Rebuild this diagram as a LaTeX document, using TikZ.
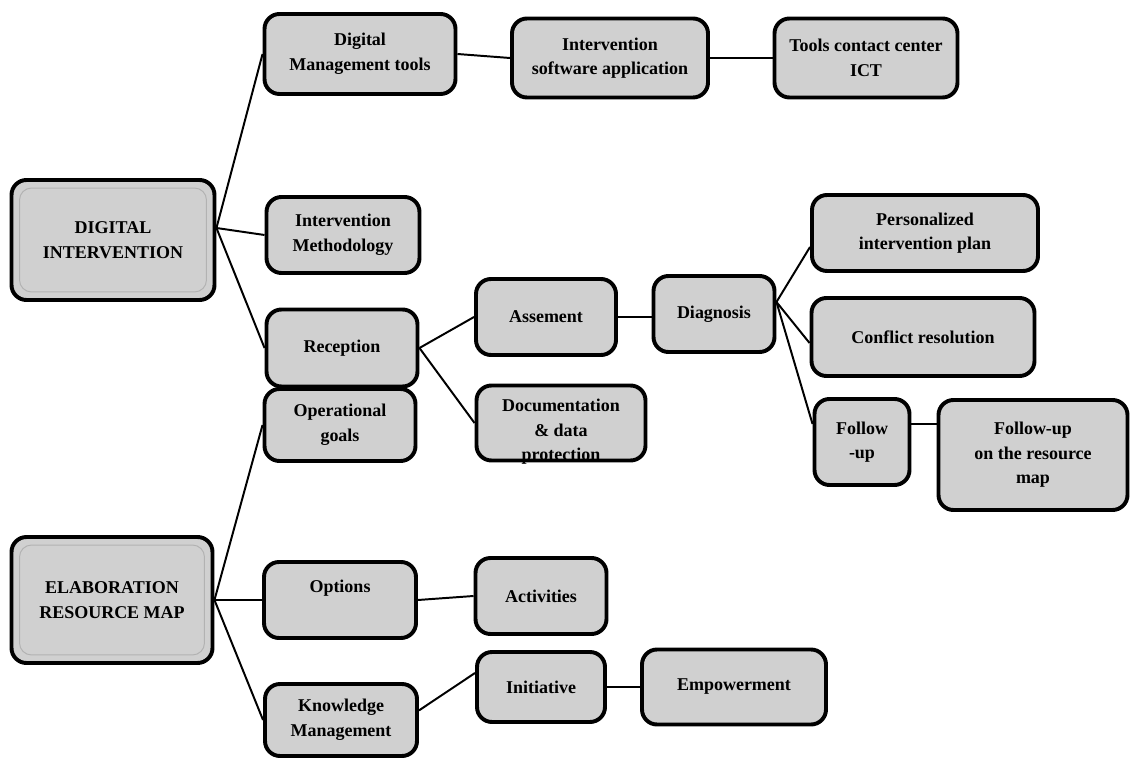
\documentclass[tikz,border=0pt]{standalone}
\usepackage{fontspec}
\setmainfont{Liberation Serif}
\usetikzlibrary{positioning}
\definecolor{boxgray}{RGB}{208,208,208}
\newcommand{\boxfont}{\fontsize{12.8}{17.5}\selectfont\bfseries}

\begin{document}
\begin{tikzpicture}[
    box/.style={draw, line width=2.8pt, rounded corners=0.375cm, fill=boxgray,
      align=center, inner sep=2pt, font=\boxfont},
    txt/.style={align=center, inner sep=0pt, font=\boxfont},
    inner line/.style={draw=gray!60, line width=0.7pt, rounded corners=0.3cm},
    link/.style={line width=1.4pt}
  ]
      \useasboundingbox (0, 0) rectangle (28.275, -19);

      % roots
      \node[box, minimum width=5.075cm, minimum height=3cm] (di) at (2.825, -6) {DIGITAL\\INTERVENTION};
      \draw[inner line] ([shift={(0.25, -0.25)}]di.north west) rectangle ([shift={(-0.25, 0.25)}]di.south east);
      \node[box, minimum width=5.025cm, minimum height=3.15cm] (erm) at (2.8, -15) {ELABORATION\\RESOURCE MAP};
      \draw[inner line] ([shift={(0.25, -0.25)}]erm.north west) rectangle ([shift={(-0.25, 0.25)}]erm.south east);

      % digital intervention branch
      \node[box, minimum width=4.775cm, minimum height=2cm] (dmt) at (9, -1.35) {Digital\\Management tools};
      \node[box, minimum width=4.9cm, minimum height=1.975cm] (isa) at (15.25, -1.45) {Intervention\\software application};
      \node[box, minimum width=4.575cm, minimum height=1.975cm] (tcc) at (21.65, -1.45) {Tools contact center\\ICT};
      \node[box, minimum width=3.825cm, minimum height=1.9cm] (im) at (8.575, -5.875) {Intervention\\Methodology};
      \node[box, minimum width=3.775cm, minimum height=1.925cm] (rec) at (8.55, -8.7) {Reception};
      \node[box, minimum width=3.5cm, minimum height=1.9cm] (ass) at (13.65, -7.925) {Assement};
      \node[box, minimum width=4.225cm, minimum height=1.875cm] (doc) at (14.025, -10.575) {};
      \node[txt] (doc-t) at ([yshift=-0.225cm]doc.center) {Documentation\\\& data\\protection};
      \node[box, minimum width=3.025cm, minimum height=1.9cm] (dia) at (17.85, -7.85) {Diagnosis};
      \node[box, minimum width=5.65cm, minimum height=1.9cm] (pip) at (23.125, -5.825) {Personalized\\intervention plan};
      \node[box, minimum width=5.575cm, minimum height=1.95cm] (cr) at (23.075, -8.425) {Conflict resolution};
      \node[box, minimum width=2.375cm, minimum height=2.15cm] (fu) at (21.55, -11.05) {Follow\\-up};
      \node[box, minimum width=4.725cm, minimum height=2.75cm] (fur) at (25.825, -11.375) {Follow-up\\on the resource\\map};

      % resource map branch
      \node[box, minimum width=3.775cm, minimum height=1.8cm] (og) at (8.5, -10.625) {Operational\\goals};
      \node[box, minimum width=3.8cm, minimum height=1.9cm] (opt) at (8.5, -15) {};
      \node[txt] (opt-t) at ([yshift=0.3cm]opt.center) {Options};
      \node[box, minimum width=3.275cm, minimum height=1.9cm] (act) at (13.525, -14.9) {Activities};
      \node[box, minimum width=3.8cm, minimum height=1.8cm] (km) at (8.525, -18) {Knowledge\\Management};
      \node[box, minimum width=3.2cm, minimum height=1.75cm] (ini) at (13.525, -17.175) {Initiative};
      \node[box, minimum width=4.6cm, minimum height=1.875cm] (emp) at (18.35, -17.175) {Empowerment};

      % connectors
      \draw[link] ([yshift=0.3cm]di.east) -- (dmt.west);
      \draw[link] ([yshift=0.3cm]di.east) -- (im.west);
      \draw[link] ([yshift=0.3cm]di.east) -- (rec.west);
      \draw[link] (dmt.east) -- (isa.west);
      \draw[link] (isa.east) -- (tcc.west);
      \draw[link] (rec.east) -- (ass.west);
      \draw[link] (rec.east) -- (doc.west);
      \draw[link] (ass.east) -- (ass.east -| dia.west);
      \draw[link] ([yshift=0.3cm]dia.east) -- ([yshift=-0.35cm]pip.west);
      \draw[link] ([yshift=0.3cm]dia.east) -- ([yshift=-0.15cm]cr.west);
      \draw[link] ([yshift=0.3cm]dia.east) -- ([yshift=0.45cm]fu.west);
      \draw[link] (fu.20) -- (fu.20 -| fur.west);

      \draw[link] (erm.east) -- (og.west);
      \draw[link] (erm.east) -- (opt.west);
      \draw[link] (erm.east) -- (km.west);
      \draw[link] (opt.east) -- (act.west);
      \draw[link] (km.7) -- (ini.168);
      \draw[link] (ini.east) -- (emp.west);
\end{tikzpicture}
\end{document}
